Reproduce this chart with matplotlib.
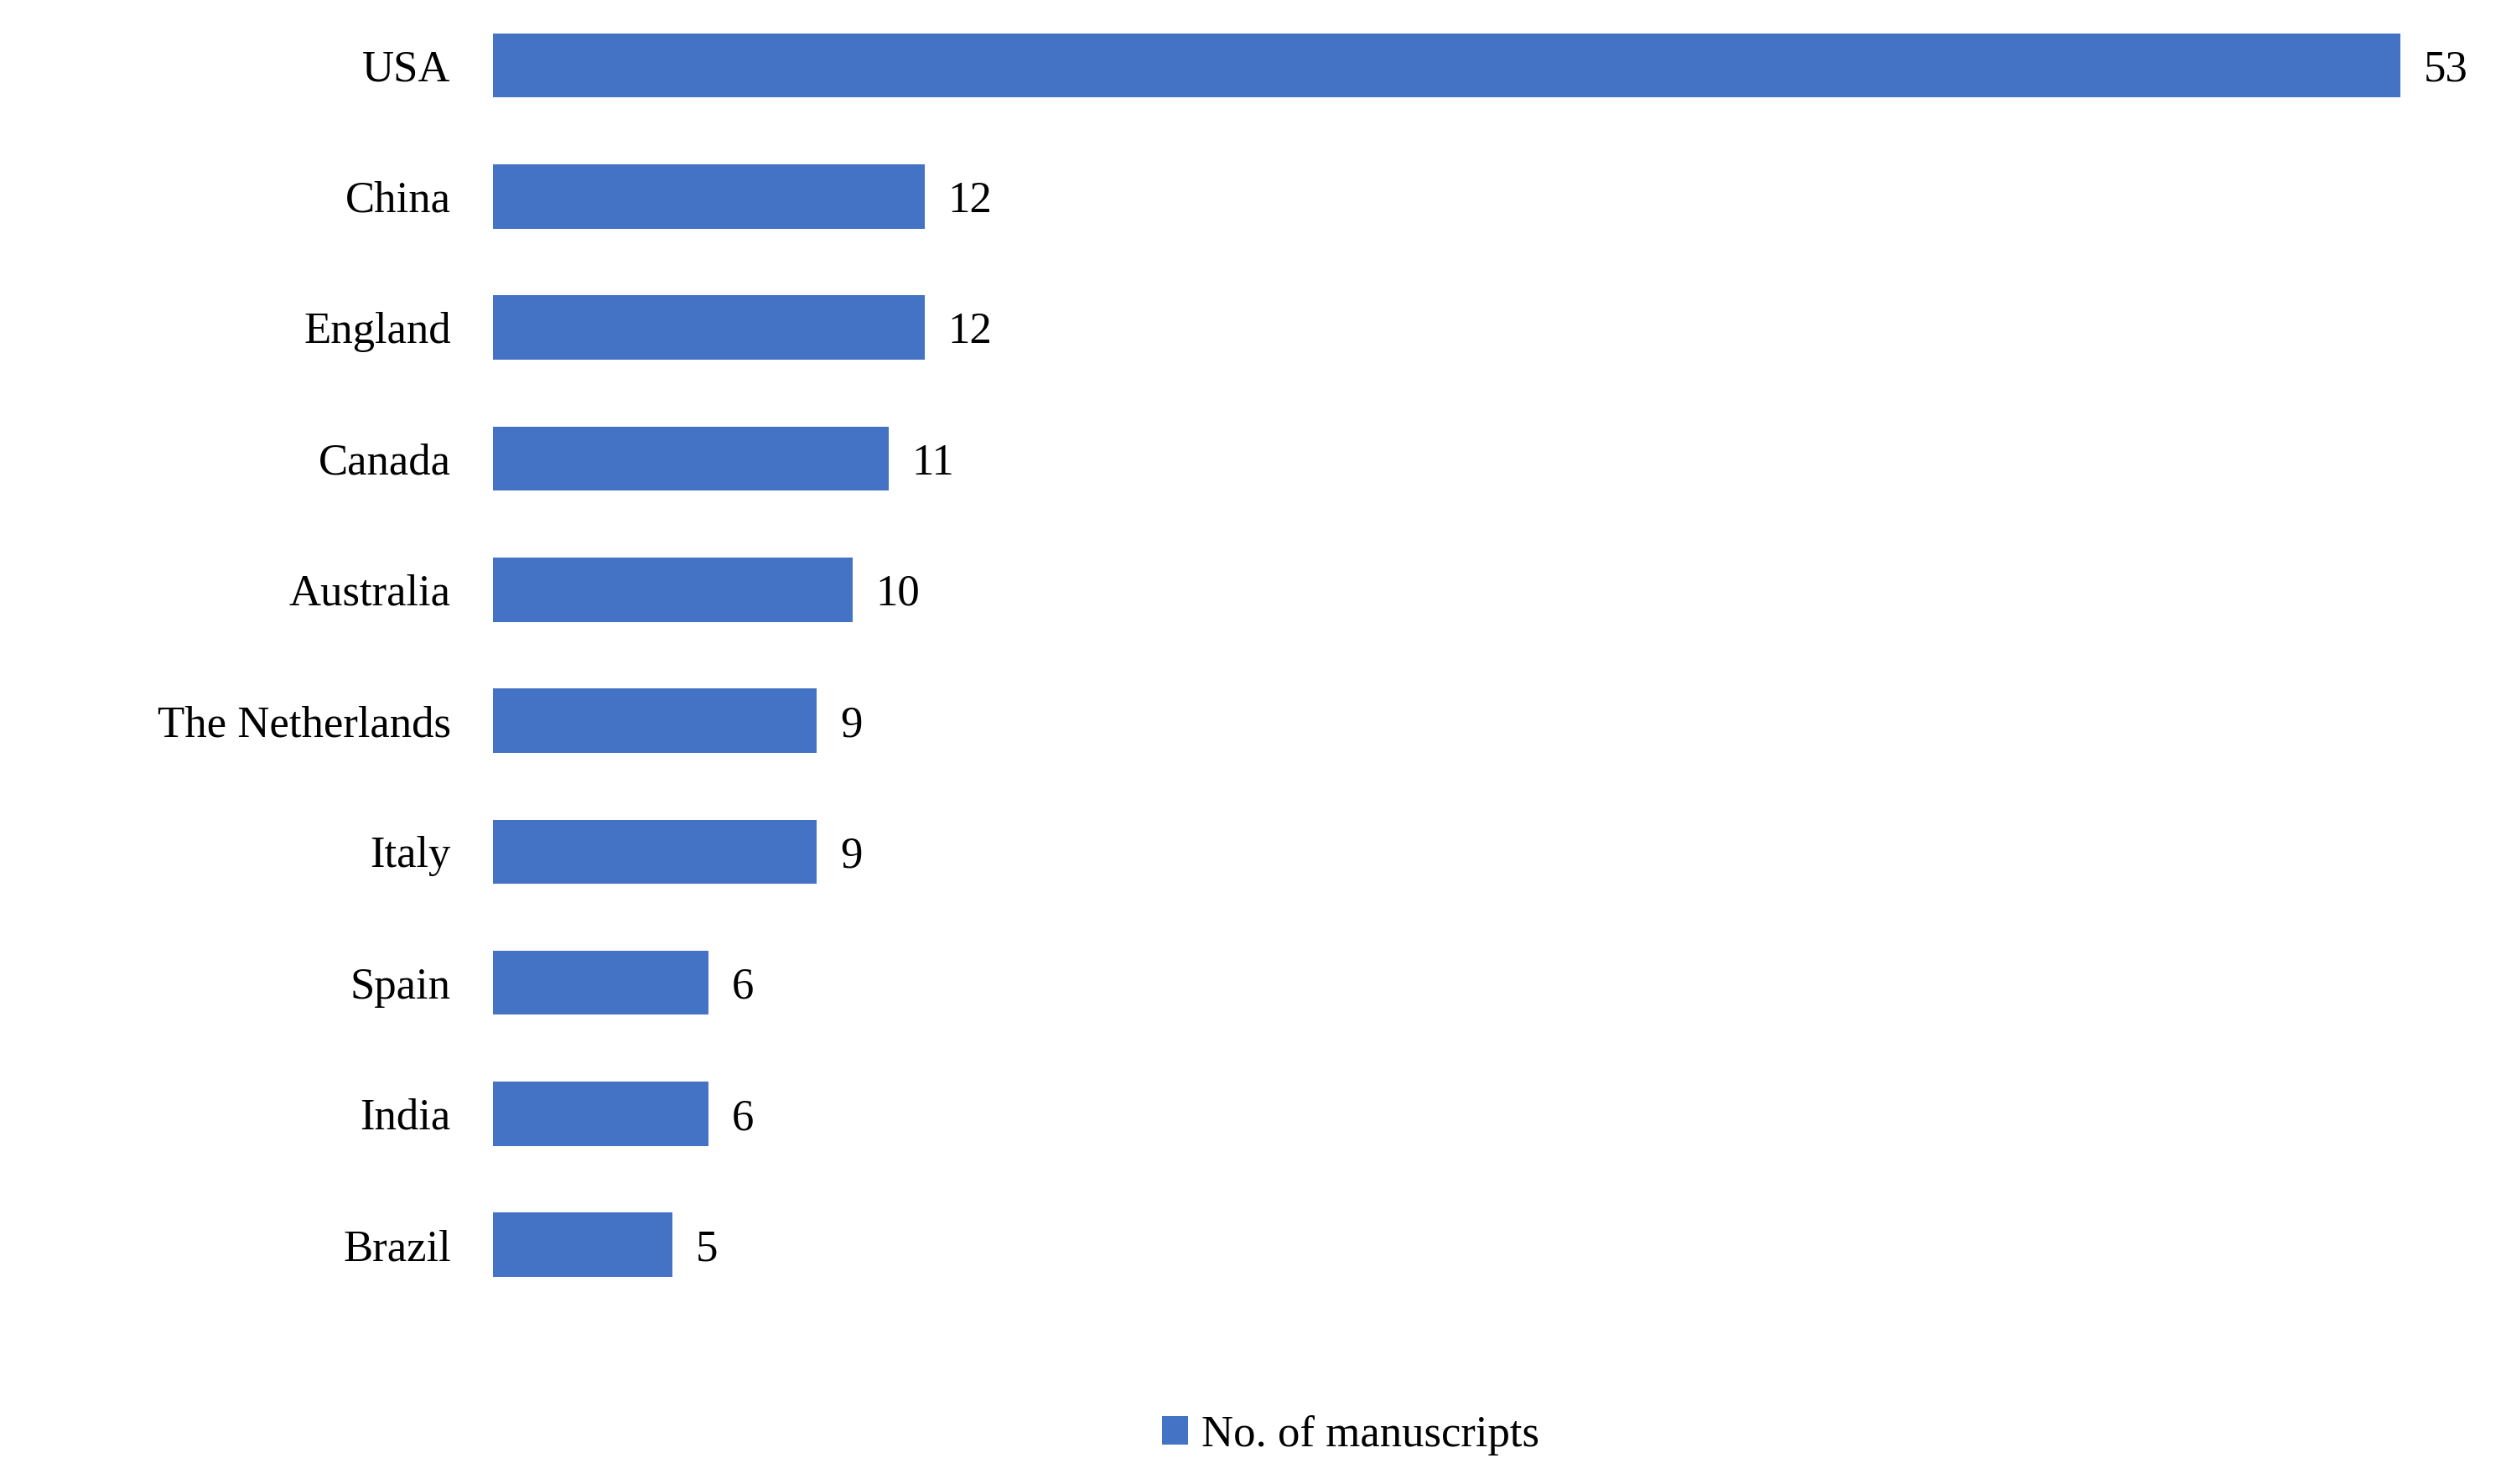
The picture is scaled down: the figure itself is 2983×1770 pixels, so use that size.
import matplotlib.pyplot as plt

countries = ['USA', 'China', 'England', 'Canada', 'Australia', 'The Netherlands',
             'Italy', 'Spain', 'India', 'Brazil']
manuscripts = [53, 12, 12, 11, 10, 9, 9, 6, 6, 5]

plt.rcParams['font.family'] = ['Liberation Serif', 'DejaVu Serif']

fig = plt.figure(figsize=(14.915, 8.85), dpi=200)
ax = fig.add_axes([0.197, 0.117, 0.793, 0.883])

pos = list(range(len(countries)))
bars = ax.barh(pos, manuscripts, height=0.49, color='#4472C4', label='No. of manuscripts')
ax.set_ylim(len(countries) - 0.5, -0.5)
ax.set_xlim(0, 55.1)
ax.set_yticks(pos)
ax.set_yticklabels(countries, fontsize=19)
ax.tick_params(axis='y', length=0, pad=18)
ax.set_xticks([])
for s in ax.spines.values():
    s.set_visible(False)

for p, v in zip(pos, manuscripts):
    ax.annotate(str(v), (v, p), xytext=(10, -2), textcoords='offset points',
                va='center', ha='left', fontsize=19)

fig.legend(loc='center', bbox_to_anchor=(0.54, 0.033), frameon=False, fontsize=19,
           handlelength=0.6, handleheight=0.6, handletextpad=0.3)

fig.savefig('out.png')
